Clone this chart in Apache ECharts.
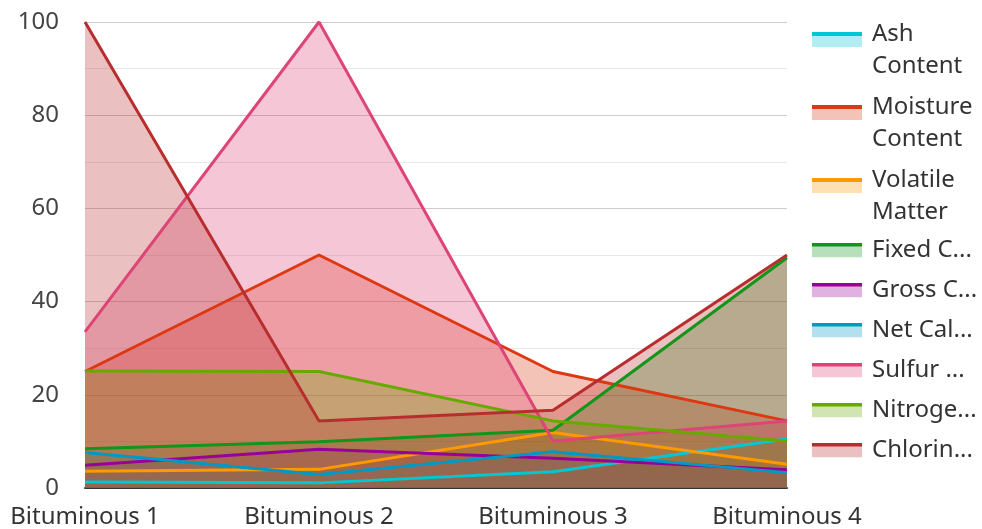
<!DOCTYPE html>
<html>
<head>
<meta charset="utf-8">
<script src="https://cdn.jsdelivr.net/npm/echarts@6/dist/echarts.min.js"></script>
<style>
  html, body { margin: 0; padding: 0; background: #fff; }
  #main { width: 982px; height: 529px; }
</style>
</head>
<body>
<div id="main"></div>
<script>
// 类别
var categories = ['Bituminous 1', 'Bituminous 2', 'Bituminous 3', 'Bituminous 4'];

// 各项指标
var ashContent = [1.3, 1.1, 3.5, 10.5];
var moistureContent = [25, 50, 25, 14.4];
var volatileMatter = [3.6, 4, 11.9, 5.1];
var fixedCarbon = [8.4, 9.9, 12.4, 49.4];
var grossCalorific = [4.9, 8.3, 6.4, 3.9];
var netCalorific = [7.6, 2.9, 7.8, 3.3];
var sulfurContent = [33.5, 100, 10.1, 14.4];
var nitrogenContent = [25.1, 25, 14.4, 10.1];
var chlorineContent = [100, 14.4, 16.7, 50];

var seriesNames = ['Ash Content', 'Moisture Content', 'Volatile Matter', 'Fixed Carbon',
  'Gross Calorific Value', 'Net Calorific Value', 'Sulfur Content', 'Nitrogen Content', 'Chlorine Content'];
var seriesData = [ashContent, moistureContent, volatileMatter, fixedCarbon,
  grossCalorific, netCalorific, sulfurContent, nitrogenContent, chlorineContent];
var colors = ['#00c8d2', '#dc3912', '#ff9900', '#109618', '#990099', '#0099c6', '#dd4477', '#66aa00', '#b82e2e'];

var chart = echarts.init(document.getElementById('main'));

var series = seriesNames.map(function (name, i) {
  return {
    name: name,
    type: 'line',
    data: seriesData[i],
    showSymbol: false,
    symbol: 'none',
    lineStyle: { width: 3, color: colors[i] },
    itemStyle: { color: colors[i] },
    areaStyle: { color: colors[i], opacity: 0.3 }
  };
});

// 图例图标：上面一条线，下面一块浅色
function legendIcon(c) {
  var svg = '<svg xmlns="http://www.w3.org/2000/svg" width="50" height="15">' +
    '<rect x="0" y="0" width="50" height="15" fill="' + c + '" fill-opacity="0.3"/>' +
    '<rect x="0" y="0" width="50" height="4" fill="' + c + '"/></svg>';
  return 'image://data:image/svg+xml;charset=utf-8,' + encodeURIComponent(svg);
}

function legendData(from, to) {
  return seriesNames.slice(from, to).map(function (name, i) {
    return { name: name, icon: legendIcon(colors[from + i]) };
  });
}

// 图例文字
var legendText = {
  color: '#333',
  fontSize: 24,
  lineHeight: 32,
  fontFamily: 'Noto Sans',
  width: 110,
  overflow: 'truncate'
};

chart.setOption({
  animation: false,
  color: colors,
  grid: { left: 85, right: 195, top: 22, bottom: 41 },
  legend: [
    {
      // 两行的图例，前面加一个空行，让第一行和图标对齐
      data: legendData(0, 3),
      orient: 'vertical',
      left: 812,
      top: -3,
      padding: 0,
      itemWidth: 50,
      itemHeight: 15,
      itemGap: -12,
      formatter: function (name) {
        var parts = name.split(' ');
        return '{s| }\n{t|' + parts[0] + '}\n{t|' + parts[1] + '}';
      },
      textStyle: Object.assign({}, legendText, {
        padding: [0, 0, 0, 5],
        rich: {
          s: { fontSize: 10, lineHeight: 21 },
          t: { fontSize: 24, lineHeight: 32, color: '#333', fontFamily: 'Noto Sans' }
        }
      })
    },
    {
      data: legendData(3),
      orient: 'vertical',
      left: 812,
      top: 227,
      padding: 0,
      itemWidth: 50,
      itemHeight: 15,
      itemGap: -6,
      textStyle: Object.assign({}, legendText, { padding: [0, 0, 14, 5] })
    }
  ],
  xAxis: {
    type: 'category',
    data: categories,
    boundaryGap: false,
    axisLine: { lineStyle: { color: '#333', width: 2 } },
    axisTick: { show: false },
    axisLabel: { color: '#333', fontSize: 24, fontFamily: 'Noto Sans', margin: 17 }
  },
  yAxis: {
    type: 'value',
    min: 0,
    max: 100,
    interval: 20,
    axisLine: { show: false },
    axisTick: { show: false },
    axisLabel: { color: '#444', fontSize: 24, fontFamily: 'Noto Sans', margin: 26 },
    splitLine: { lineStyle: { color: '#cccccc', width: 1 } },
    minorTick: { show: false, splitNumber: 2 },
    minorSplitLine: { show: true, lineStyle: { color: '#e8e8e8', width: 1 } }
  },
  series: series
});
</script>
</body>
</html>
